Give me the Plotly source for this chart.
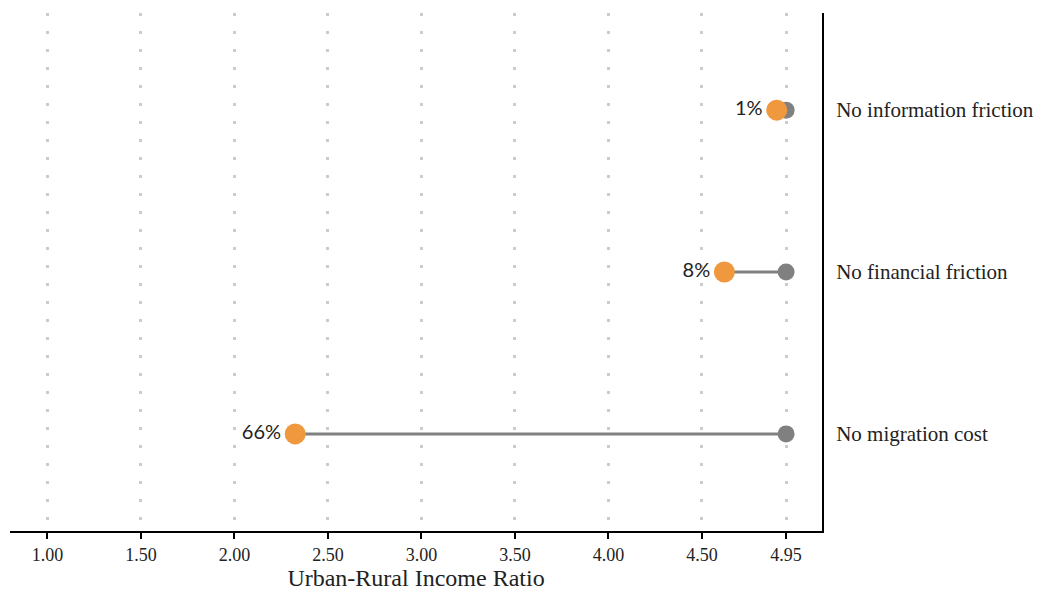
import plotly.graph_objects as go

categories = ["No migration cost", "No financial friction", "No information friction"]
baseline = [4.95, 4.95, 4.95]
counterfactual = [2.325, 4.62, 4.90]
pct_labels = ["66%", "8%", "1%"]
tick_vals = [1.00, 1.50, 2.00, 2.50, 3.00, 3.50, 4.00, 4.50, 4.95]
tick_text = ["1.00", "1.50", "2.00", "2.50", "3.00", "3.50", "4.00", "4.50", "4.95"]

serif = "Palatino Linotype, Book Antiqua, Palatino, Liberation Serif, serif"

fig = go.Figure()
for i, c in enumerate(categories):
    fig.add_trace(go.Scatter(
        x=[counterfactual[i], baseline[i]], y=[c, c], mode="lines",
        line=dict(color="#808080", width=3), showlegend=False, hoverinfo="skip"))

fig.add_trace(go.Scatter(
    x=baseline, y=categories, mode="markers",
    marker=dict(color="#808080", size=17), showlegend=False))
fig.add_trace(go.Scatter(
    x=counterfactual, y=categories, mode="markers+text",
    marker=dict(color="#F0983E", size=21),
    text=pct_labels, textposition="middle left",
    textfont=dict(family="Lato, sans-serif", size=20, color="#222222"),
    showlegend=False))

fig.update_layout(
    width=1047, height=589,
    margin=dict(l=2, r=233, t=5, b=66),
    plot_bgcolor="white", paper_bgcolor="white",
    xaxis=dict(
        range=[0.80, 5.142], tickmode="array", tickvals=tick_vals, ticktext=tick_text,
        showgrid=True, gridcolor="#cccccc", gridwidth=3, griddash="3px,15px",
        showline=True, linecolor="black", linewidth=2,
        ticks="outside", ticklen=6, tickwidth=2, tickcolor="black",
        tickfont=dict(family=serif, size=18, color="#222222"),
        title=dict(text="Urban-Rural Income Ratio", font=dict(family=serif, size=24, color="#222222"), standoff=5),
        zeroline=False,
    ),
    yaxis=dict(
        type="category", categoryorder="array", categoryarray=categories,
        range=[-0.6, 2.6], side="right",
        showgrid=False, showline=True, linecolor="black", linewidth=2,
        ticks="", ticklabelstandoff=8,
        tickfont=dict(family=serif, size=21, color="#222222"),
        zeroline=False,
    ),
)

fig.write_html("out.html")
